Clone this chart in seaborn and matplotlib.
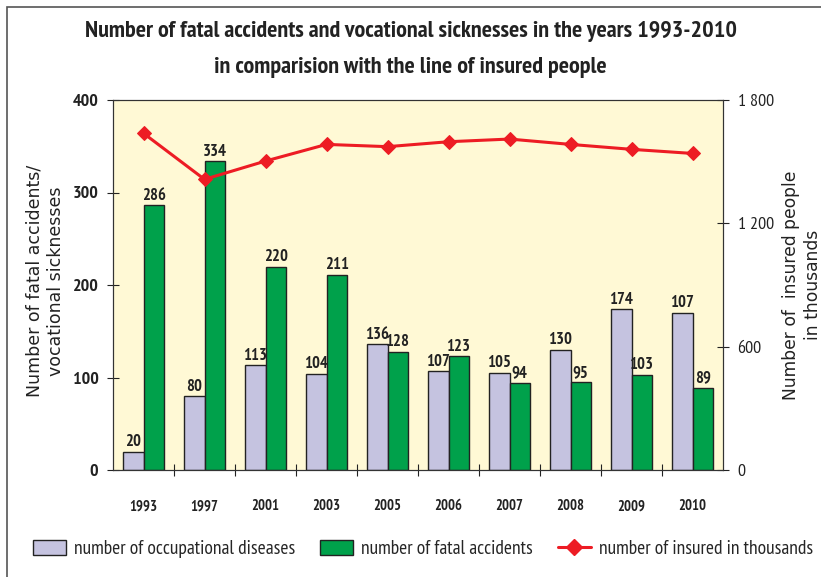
import matplotlib
matplotlib.use('Agg')
import matplotlib.pyplot as plt
from matplotlib.patches import Rectangle, Patch
from matplotlib.lines import Line2D
from matplotlib.ticker import FixedLocator
import numpy as np
import pandas as pd
import seaborn as sns

# data
years = ['1993', '1997', '2001', '2003', '2005', '2006', '2007', '2008', '2009', '2010']
occupational = [20, 80, 113, 104, 136, 107, 105, 130, 174, 170]
occupational_labels = ['20', '80', '113', '104', '136', '107', '105', '130', '174', '107']
fatal = [286, 334, 220, 211, 128, 123, 94, 95, 103, 89]
insured = [1638, 1414, 1503, 1584, 1573, 1597, 1610, 1584, 1560, 1540]

c_occ = '#c5c3e0'
c_fatal = '#00a14b'
c_line = '#ed1c24'
bg = '#fff9d5'
ink = '#222222'

sns.set_style('white')
plt.rcParams['font.family'] = ['PT Sans Narrow', 'DejaVu Sans']

df = pd.DataFrame({
    'year': years * 2,
    'value': occupational + fatal,
    'series': ['number of occupational diseases'] * len(years) + ['number of fatal accidents'] * len(years),
})

fig = plt.figure(figsize=(8.21, 5.77), dpi=100)
ax = fig.add_axes([113 / 821, 1 - 470 / 577, 610 / 821, 370 / 577])
ax.set_facecolor(bg)

sns.barplot(data=df, x='year', y='value', hue='series', palette=[c_occ, c_fatal],
            width=0.66, edgecolor=ink, linewidth=1, saturation=1, legend=False, ax=ax)

ax.bar_label(ax.containers[0], labels=occupational_labels, padding=1,
             fontsize=12, fontweight='bold', color=ink)
ax.bar_label(ax.containers[1], labels=[str(v) for v in fatal], padding=1,
             fontsize=12, fontweight='bold', color=ink)

ax.set_xlim(-0.5, len(years) - 0.5)
ax.set_ylim(0, 400)
ax.set_yticks([0, 100, 200, 300, 400])
ax.set_xlabel('')
ax.set_ylabel('Number of fatal accidents/\nvocational sicknesses', family='DejaVu Sans',
              fontsize=12.5, color=ink, linespacing=1.25)
ax.yaxis.set_label_coords(-0.079, 0.51)
ax.tick_params(axis='y', direction='inout', length=9, width=0.8, labelsize=13, pad=6,
               colors=ink, left=True)
ax.tick_params(axis='x', which='major', length=0, pad=21, labelsize=10.5, colors=ink)
for t in ax.get_xticklabels() + ax.get_yticklabels():
    t.set_fontweight('bold')
ax.xaxis.set_minor_locator(FixedLocator(np.arange(0.5, len(years) - 1, 1)))
ax.tick_params(axis='x', which='minor', direction='inout', length=9, width=0.8,
               color=ink, bottom=True)

for s in ax.spines.values():
    s.set_color('#333333')
    s.set_linewidth(0.8)

ax2 = ax.twinx()
sns.lineplot(x=np.arange(len(years)), y=insured, color=c_line, linewidth=2.2,
             marker='D', markersize=7, markeredgecolor=c_line, ax=ax2)
ax2.set_ylim(0, 1800)
ax2.set_yticks([0, 600, 1200, 1800])
ax2.set_yticklabels(['0', '600', '1 200', '1 800'])
ax2.set_ylabel('Number of  insured people\nin thousands', family='DejaVu Sans',
               fontsize=12.3, color=ink, linespacing=1.25)
ax2.yaxis.set_label_coords(1.097, 0.50)
ax2.tick_params(axis='y', direction='inout', length=9, width=0.8, labelsize=13, pad=6,
                colors=ink, right=True)
for s in ax2.spines.values():
    s.set_color('#333333')
    s.set_linewidth(0.8)

fig.text(0.5, 1 - 32 / 577, 'Number of fatal accidents and vocational sicknesses in the years 1993-2010',
         ha='center', va='center', fontsize=17.4, fontweight='bold', color=ink)
fig.text(0.5, 1 - 67 / 577, 'in comparision with the line of insured people',
         ha='center', va='center', fontsize=17.4, fontweight='bold', color=ink)

handles = [
    Patch(facecolor=c_occ, edgecolor=ink, linewidth=1),
    Patch(facecolor=c_fatal, edgecolor=ink, linewidth=1),
    Line2D([0], [0], color=c_line, linewidth=2.2, marker='D', markersize=8),
]
labels = ['number of occupational diseases', 'number of fatal accidents', 'number of insured in thousands']
fig.legend(handles, labels, loc='center', bbox_to_anchor=(0.515, 1 - 549 / 577), ncol=3,
           frameon=False, fontsize=14, handlelength=1.7, handleheight=0.8,
           columnspacing=1.3, handletextpad=0.4)

fig.patches.append(Rectangle((7 / 821, -0.1), 1.2, 1 - 7 / 577 + 0.1, transform=fig.transFigure,
                             fill=False, edgecolor='#555555', linewidth=1.2))

fig.savefig('out.png', dpi=100)
